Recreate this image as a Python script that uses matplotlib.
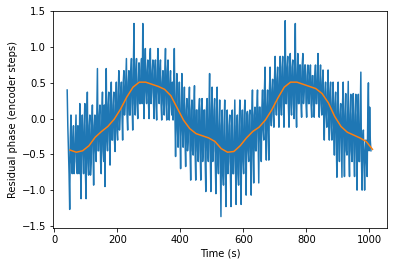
import numpy as np
import matplotlib
matplotlib.use("Agg")
import matplotlib.pyplot as plt

# Residual phase samples every 2 s starting at 41 s, stored as the samples
# at 41, 45, 49, ... (residual_a) and the ones in between (residual_b)
t_start, t_step = 41, 2
residual_a = [
    0.40, -0.45, -1.27, 0.05, -0.77, -0.10, -0.60, 0.05, -0.77, -0.27,
    0.21, -1.12, 0.05, -0.77, 0.21, -1.12, 0.37, -0.79, 0.05, -0.62,
    0.19, -0.93, 0.05, -0.60, 0.70, -0.45, 0.19, -0.77, 0.37, -0.60,
    -0.95, 0.70, -0.45, 0.37, -0.65, 0.51, -0.30, 0.37, -0.46, 0.51,
    -0.30, 0.67, 0.05, 0.51, -0.30, 0.67, 0.21, 0.84, -0.16, 0.67,
    0.05, 0.84, -0.16, 1.33, 0.05, 0.84, 0.00, 0.78, 0.21, 0.84,
    1.33, 0.00, 0.98, 0.21, 0.82, 0.00, 0.98, 0.37, 0.82, 0.00,
    0.82, -0.02, 0.98, 0.21, 0.82, -0.02, 0.67, 0.05, 0.98, -0.02,
    0.82, -0.02, 0.67, 0.05, -0.02, 0.98, -0.53, 0.63, -0.40, 0.51,
    -0.70, 0.63, -0.40, 0.44, -0.67, 0.28, -0.30, 0.44, -0.86, 0.26,
    -0.51, 0.46, -0.86, 0.12, -0.60, 0.28, -0.86, 0.28, -0.40, 0.12,
    -1.02, 0.28, -0.60, 0.63, -1.02, 0.44, -0.45, 0.28, -1.05, 0.44,
    -0.77, 0.26, -1.37, 0.12, -0.93, 0.26, -1.23, 0.12, -0.60, 0.05,
    -1.23, 0.12, -0.77, 0.26, -1.20, 0.05, -0.93, 0.26, -1.20, 0.12,
    -0.77, 0.26, -1.07, 0.10, -0.60, 0.12, -1.07, 0.40, -0.90, 0.16,
    -0.45, 0.40, -0.90, 0.16, -0.60, 0.40, -0.30, 0.72, -0.58, 0.40,
    -0.58, 0.72, -0.10, 0.55, -0.12, 0.87, 0.05, 0.72, -0.12, 0.87,
    0.05, 0.87, -0.12, 1.37, 0.21, 0.87, -0.12, 0.91, 0.05, 0.82,
    0.00, 1.33, -0.12, 0.91, 0.21, 0.75, 0.02, 0.91, 0.37, 0.75,
    0.02, 0.75, 0.21, 0.75, 0.02, 0.60, 0.02, 0.75, 0.21, 0.91,
    0.02, 0.75, 0.05, 0.68, -0.30, 0.51, -0.12, 0.68, -0.30, 0.51,
    -0.30, 0.51, -0.51, 0.37, -0.82, 0.51, -0.60, 0.21, -0.82, 0.51,
    -0.81, 0.35, -0.51, 0.52, -0.81, 0.34, -0.60, 0.35, -0.81, 0.34,
    -1.00, 0.34, -0.60, 0.65, -1.00, -0.16, -1.00, -0.30, -0.81, 0.50,
    0.16, -0.45,
]
residual_b = [
    -0.10, -0.77, -0.27, -0.60, -0.27, -0.77, -0.27, -0.60, -0.10, -0.77,
    -0.60, -0.27, -0.45, -0.10, -0.77, -0.10, -0.62, -0.10, -0.79, -0.10,
    -0.45, -0.10, -0.45, 0.05, -0.45, 0.05, -0.60, 0.05, -0.45, 0.19,
    0.19, -0.30, 0.19, -0.30, 0.19, -0.30, 0.19, -0.30, 0.19, -0.16,
    0.37, -0.16, 0.37, 0.05, 0.51, 0.05, 0.51, 0.05, 0.51, 0.05,
    0.67, 0.21, 0.67, 0.21, 0.67, 0.21, 0.51, 0.21, 0.67, 0.21,
    0.37, 0.67, 0.37, 0.67, 0.21, 0.82, 0.21, 0.67, 0.21, 0.67,
    0.21, 0.67, 0.37, 0.67, 0.21, 0.51, 0.21, 0.67, 0.21, 0.67,
    0.21, 0.51, 0.21, 0.51, 0.37, 0.05, 0.21, -0.16, 0.21, -0.16,
    0.12, -0.16, 0.12, -0.30, 0.12, -0.45, 0.12, -0.45, 0.12, -0.45,
    0.12, -0.45, 0.12, -0.45, 0.12, -0.45, 0.12, -0.60, 0.12, -0.60,
    0.12, -0.45, 0.12, -0.45, 0.12, -0.60, 0.12, -0.60, 0.12, -0.60,
    -0.10, -0.60, -0.10, -0.77, -0.10, -0.77, -0.27, -0.77, -0.10, -0.77,
    -0.10, -0.77, -0.27, -0.60, -0.10, -0.77, -0.10, -0.77, -0.10, -0.60,
    0.05, -0.60, 0.05, -0.45, 0.05, -0.60, 0.05, -0.45, 0.05, -0.45,
    0.16, -0.30, 0.16, -0.30, 0.16, -0.16, 0.40, -0.16, 0.16, -0.16,
    0.40, 0.05, 0.40, 0.05, 0.55, 0.21, 0.55, 0.21, 0.55, 0.21,
    0.72, 0.21, 0.72, 0.21, 0.72, 0.21, 0.72, 0.21, 0.72, 0.21,
    0.75, 0.21, 0.60, 0.21, 0.75, 0.21, 0.75, 0.21, 0.75, 0.21,
    0.60, 0.21, 0.60, 0.21, 0.60, 0.21, 0.60, 0.21, 0.60, 0.21,
    0.51, 0.21, 0.51, 0.05, 0.37, 0.05, 0.37, 0.05, 0.37, -0.12,
    0.21, -0.12, 0.21, -0.30, 0.21, -0.30, 0.05, -0.30, 0.21, -0.30,
    0.05, -0.45, 0.05, -0.45, 0.05, -0.45, 0.05, -0.45, 0.05, -0.45,
    0.05, -0.60, 0.05, -0.60, -0.30, -0.60, -0.45, -0.60, 0.05, -0.45,
    -0.30,
]

# Smoothed trend (every 20 s starting at 50 s)
s_start, s_step = 50, 20
smoothed = [
    -0.44, -0.47, -0.45, -0.38, -0.26, -0.18, -0.11, -0.01, 0.13, 0.30,
    0.44, 0.51, 0.51, 0.48, 0.45, 0.41, 0.32, 0.15, -0.02, -0.14,
    -0.21, -0.24, -0.27, -0.32, -0.42, -0.47, -0.46, -0.38, -0.27, -0.18,
    -0.12, -0.02, 0.12, 0.29, 0.44, 0.51, 0.51, 0.48, 0.45, 0.42,
    0.35, 0.22, 0.03, -0.11, -0.19, -0.23, -0.27, -0.32, -0.43,
]

residual = np.empty(len(residual_a) + len(residual_b))
residual[0::2] = residual_a
residual[1::2] = residual_b
t = t_start + t_step * np.arange(len(residual))
ts = s_start + s_step * np.arange(len(smoothed))

fig = plt.figure(figsize=(394 / 72, 266 / 72), dpi=72)
ax = fig.add_axes([53 / 394, (266 - 228) / 266, 334 / 394, 217 / 266])
ax.plot(t, residual, color="C0", lw=1.5)
ax.plot(ts, smoothed, color="C1", lw=1.5)
ax.set_xlim(-4, 1056)
ax.set_ylim(-1.53, 1.505)
ax.set_xticks([0, 200, 400, 600, 800, 1000])
ax.set_yticks([-1.5, -1.0, -0.5, 0.0, 0.5, 1.0, 1.5])
ax.set_xlabel("Time (s)")
ax.set_ylabel("Residual phase (encoder steps)")
fig.savefig("out.png", dpi=72)
